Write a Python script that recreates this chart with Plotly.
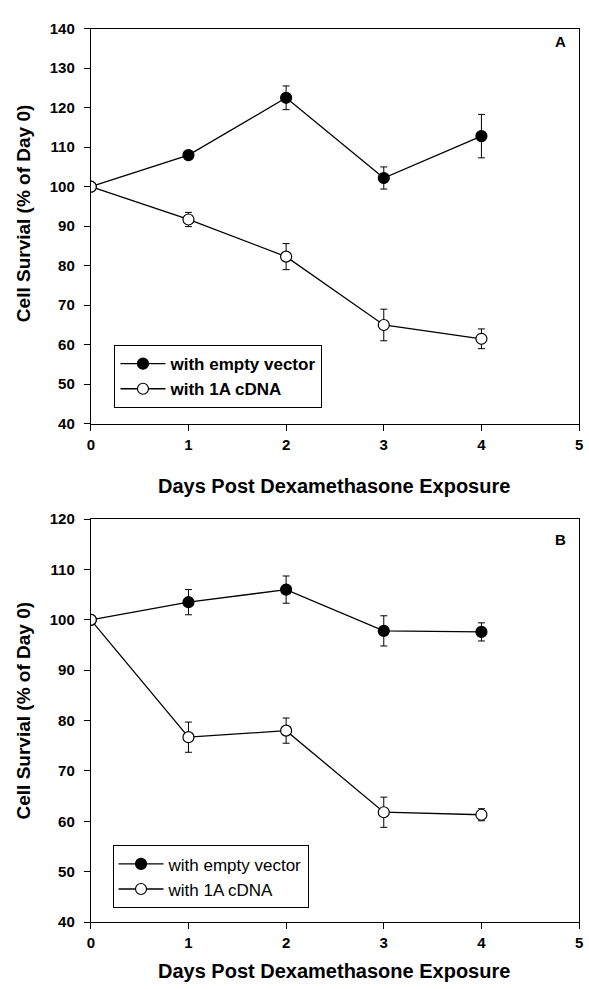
import plotly.graph_objects as go

days = [0, 1, 2, 3, 4]

a_empty = [100, 108.0, 122.5, 102.2, 112.8]
a_empty_err = [0, 0.6, 3.0, 2.8, 5.5]
a_cdna = [100, 91.7, 82.3, 65.0, 61.5]
a_cdna_err = [0, 1.8, 3.3, 4.0, 2.5]

b_empty = [100, 103.5, 106.0, 97.8, 97.6]
b_empty_err = [0, 2.5, 2.7, 3.0, 1.8]
b_cdna = [100, 76.7, 78.0, 61.8, 61.3]
b_cdna_err = [0, 3.0, 2.5, 3.0, 1.2]

x_ticks = [0, 1, 2, 3, 4, 5]
a_yticks = [40, 50, 60, 70, 80, 90, 100, 110, 120, 130, 140]
b_yticks = [40, 50, 60, 70, 80, 90, 100, 110, 120]

W, H = 589, 989
FONT = "Liberation Sans, Arial, sans-serif"

def px(x):
    return x / W

def py(y):
    return 1 - y / H

def series(x, y, err, filled, name, xa, ya, legend):
    return go.Scatter(
        x=x, y=y, name=name, mode="lines+markers", xaxis=xa, yaxis=ya,
        legend=legend,
        line=dict(color="black", width=1.3),
        marker=dict(size=11, color="black" if filled else "white",
                    line=dict(color="black", width=1.2)),
        error_y=dict(type="data", array=err, visible=True, color="black",
                     thickness=1, width=3.5),
    )

fig = go.Figure()
fig.add_trace(series(days, a_empty, a_empty_err, True, "with empty vector", "x", "y", "legend"))
fig.add_trace(series(days, a_cdna, a_cdna_err, False, "with 1A cDNA", "x", "y", "legend"))
fig.add_trace(series(days, b_empty, b_empty_err, True, "with empty vector", "x2", "y2", "legend2"))
fig.add_trace(series(days, b_cdna, b_cdna_err, False, "with 1A cDNA", "x2", "y2", "legend2"))

xdom = [px(88), px(583)]
axA = [py(422), py(20)]
axB = [py(929), py(519)]

tickfont = dict(family=FONT, size=15, color="black", weight="bold")
xcommon = dict(range=[0, 5], tickvals=x_ticks, showline=True, linecolor="black",
               linewidth=1, mirror=True, ticks="outside", ticklen=6, tickcolor="black",
               showgrid=False, zeroline=False, domain=xdom, tickfont=tickfont,
               ticklabelstandoff=1)
ycommon = dict(showline=True, linecolor="black", linewidth=1, mirror=True,
               ticks="outside", ticklen=6, tickcolor="black", showgrid=False,
               zeroline=False, tickfont=tickfont, ticklabelstandoff=6)

fig.update_layout(
    width=W, height=H, margin=dict(l=0, r=0, t=0, b=0),
    paper_bgcolor="white", plot_bgcolor="white",
    xaxis=dict(**xcommon, anchor="y"),
    yaxis=dict(**ycommon, range=[40, 140], tickvals=a_yticks, domain=axA, anchor="x"),
    xaxis2=dict(**xcommon, anchor="y2"),
    yaxis2=dict(**ycommon, range=[40, 120], tickvals=b_yticks, domain=axB, anchor="x2"),
    legend=dict(x=px(112), y=py(342), xanchor="left", yanchor="top",
                bgcolor="white", bordercolor="black", borderwidth=1,
                font=dict(family=FONT, size=17, color="black", weight="bold"),
                itemwidth=45, tracegroupgap=0),
    legend2=dict(x=px(110), y=py(851), xanchor="left", yanchor="top",
                 bgcolor="white", bordercolor="black", borderwidth=1,
                 font=dict(family=FONT, size=17, color="black"),
                 itemwidth=45, tracegroupgap=0),
    showlegend=True,
)

bold = lambda s: dict(family=FONT, size=s, color="black", weight="bold")
annotations = [
    dict(text="A", x=px(564), y=py(33), font=bold(15)),
    dict(text="B", x=px(564), y=py(540), font=bold(15)),
    dict(text="Days Post Dexamethasone Exposure", x=px(335), y=py(485), font=bold(20)),
    dict(text="Days Post Dexamethasone Exposure", x=px(335), y=py(979), font=bold(20)),
    dict(text="Cell Survial (% of Day 0)", x=px(20), y=py(208), textangle=-90, font=bold(19)),
    dict(text="Cell Survial (% of Day 0)", x=px(20), y=py(714), textangle=-90, font=bold(19)),
]
for a in annotations:
    a.update(xref="paper", yref="paper", showarrow=False,
             xanchor="center", yanchor="middle")
fig.update_layout(annotations=annotations)

fig.write_html(
    "out.html",
    config={"displayModeBar": False},
    post_script=("document.body.style.margin='0px';"
                 "document.body.style.overflow='hidden';"
                 "document.documentElement.style.overflow='hidden';"),
)
